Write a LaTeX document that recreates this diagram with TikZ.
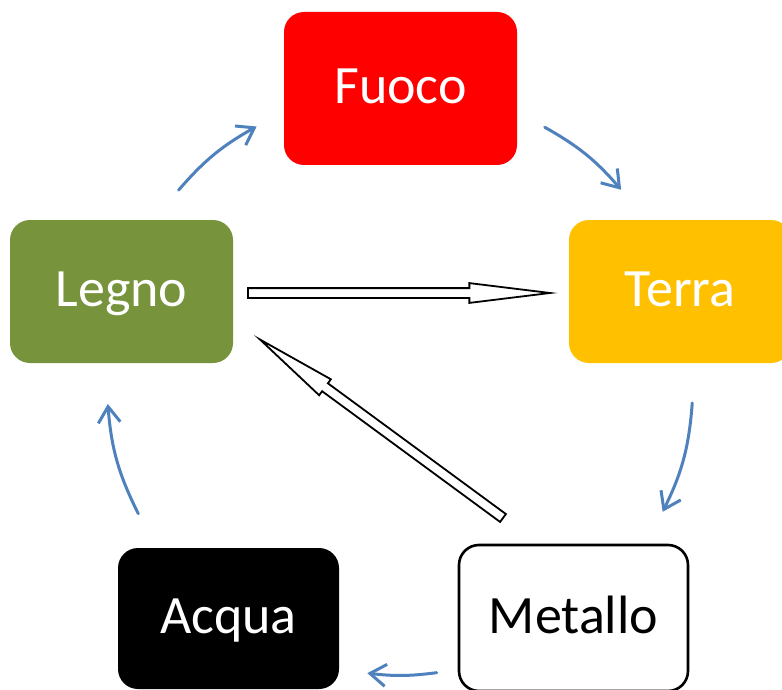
\documentclass[tikz,border=0pt]{standalone}
\usepackage{fontspec}
\setmainfont{Carlito}
\usetikzlibrary{arrows.meta,shapes.arrows,calc}
\definecolor{fuococol}{HTML}{FF0000}
\definecolor{terracol}{HTML}{FFC000}
\definecolor{legnocol}{HTML}{77933C}
\definecolor{flowcol}{HTML}{4F81BD}
\tikzset{
  elem/.style={rounded corners=20pt, inner sep=0pt, text height=40pt, text depth=10pt,
    font=\fontsize{54}{60}\selectfont},
  flow/.style={draw=flowcol, line width=3pt, line cap=round,
    -{Straight Barb[length=16pt,width=22pt,line width=3pt]}},
  hollow/.style={single arrow, draw=black, fill=white, line width=1.8pt, inner sep=4pt,
    single arrow head extend=5pt, single arrow tip angle=14, outer sep=0pt}
}
\begin{document}
\begin{tikzpicture}[x=1pt,y=1pt]
\useasboundingbox (0,0) rectangle (782,-690);
\clip (0,0) rectangle (782,-690);
% elements
\node[elem, fill=fuococol, text=white, minimum width=233pt, minimum height=153pt] (fuoco) at (400.5,-88.5) {Fuoco};
\node[elem, fill=terracol, text=white, minimum width=222pt, minimum height=143pt] (terra) at (680,-291.5) {Terra};
\node[elem, fill=legnocol, text=white, minimum width=223pt, minimum height=143pt] (legno) at (121.5,-291.5) {Legno};
\node[elem, fill=black, text=white, minimum width=221pt, minimum height=141pt] (acqua) at (228.5,-618.5) {Acqua};
\node[elem, draw=black, line width=2.6pt, fill=white, text=black, minimum width=229pt, minimum height=146pt] (metallo) at (573.5,-618) {Metallo};
% cycle arrows on a circle
\coordinate (ctr) at (400,-382);
\coordinate (f1s) at ($(ctr)+(139.1:293)$);
\coordinate (f1e) at ($(ctr)+(119.3:293)$);
\coordinate (f2s) at ($(ctr)+(60.4:293)$);
\coordinate (f2e) at ($(ctr)+(41.0:293)$);
\coordinate (f3s) at ($(ctr)+(-4.1:293)$);
\coordinate (f3e) at ($(ctr)+(-26.3:293)$);
\coordinate (f4s) at ($(ctr)+(-82.8:293)$);
\coordinate (f4e) at ($(ctr)+(-96.4:293)$);
\coordinate (f5s) at ($(ctr)+(-153.3:293)$);
\coordinate (f5e) at ($(ctr)+(-175.7:293)$);
\draw[flow] (f1s) to[bend left=10] (f1e);
\draw[flow] (f2s) to[bend left=10] (f2e);
\draw[flow] (f3s) to[bend left=11] (f3e);
\draw[flow] (f4s) to[bend left=7] (f4e);
\draw[flow] (f5s) to[bend left=11] (f5e);
% hollow arrows
\coordinate (h1s) at (248,-293);
\coordinate (h1e) at (550,-293);
\coordinate (h2s) at (503,-518);
\coordinate (h2e) at (260,-339.5);
\path let \p1=($(h1e)-(h1s)$), \n1={atan2(\y1,\x1)}, \n2={veclen(\x1,\y1)} in
  node[hollow, rotate=\n1, minimum height=\n2, anchor=tail] (hollow1) at (h1s) {};
\path let \p1=($(h2e)-(h2s)$), \n1={atan2(\y1,\x1)}, \n2={veclen(\x1,\y1)} in
  node[hollow, rotate=\n1, minimum height=\n2, anchor=tail] (hollow2) at (h2s) {};
\end{tikzpicture}
\end{document}
